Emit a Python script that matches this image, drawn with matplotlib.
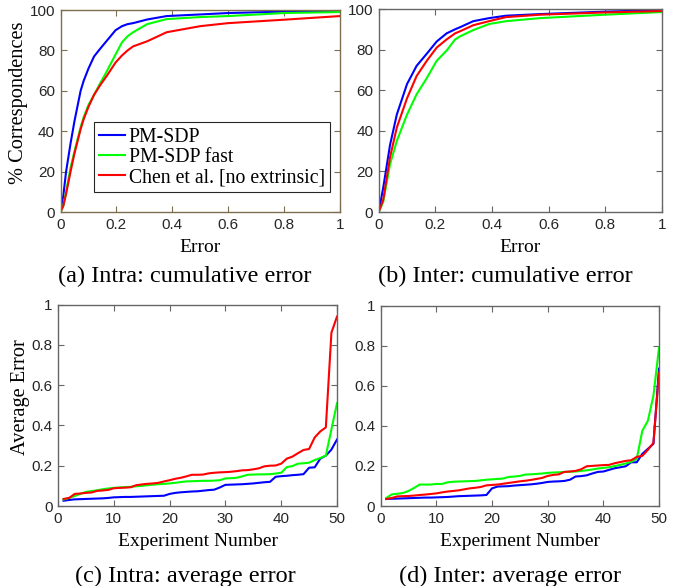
import matplotlib
matplotlib.use("Agg")
import matplotlib.pyplot as plt
import numpy as np

# ---------------- data ----------------
series_names = ["PM-SDP", "PM-SDP fast", "Chen et al. [no extrinsic]"]
series_colors = ["#0000ff", "#00ff00", "#ff0000"]

# (a) intra cumulative error
a_x = [0, 0.01, 0.02, 0.036, 0.05, 0.072, 0.083, 0.1, 0.12, 0.143, 0.167, 0.197,
       0.22, 0.24, 0.26, 0.31, 0.38, 0.5, 0.6, 0.8, 1.0]
a_blue = [0, 8, 20, 34, 45, 60, 65, 71, 77, 81, 85, 90, 92, 93, 93.5, 95.3, 97,
          97.8, 98.5, 99.2, 99.5]
a_green = [0, 3, 10, 22, 30, 42, 47, 53, 58, 64, 70, 78, 84, 87, 89, 93, 95.5,
           96.5, 97, 98.5, 99]
a_red = [0, 3, 9, 20, 29, 41, 46, 52, 58, 63, 67.7, 74, 77.5, 80, 82, 84.5, 89,
         92, 93.5, 95.2, 97]

# (b) inter cumulative error
b_x = [0, 0.016, 0.04, 0.064, 0.1, 0.134, 0.17, 0.205, 0.24, 0.27, 0.287, 0.334,
       0.39, 0.45, 0.57, 0.8, 1.0]
b_blue = [0, 12, 33, 48, 63, 72, 78, 84, 88, 90, 91, 94, 95.5, 96.7, 97.5, 98.7, 99.5]
b_green = [0, 5, 23.5, 35, 48, 58, 66, 74.5, 79.5, 85, 86.5, 89.6, 92.6, 94, 95.5, 97.2, 98.5]
b_red = [0, 6, 27, 41.6, 56, 67, 74.5, 81, 85, 88, 89, 92, 94, 96, 97.2, 98.3, 99]

experiments = list(range(1, 51))

# (c) intra average error
c_blue = [0.026, 0.030, 0.033, 0.034, 0.035, 0.036, 0.037, 0.038, 0.040, 0.043,
          0.044, 0.045, 0.045, 0.046, 0.047, 0.048, 0.049, 0.050, 0.051, 0.060,
          0.065, 0.068, 0.070, 0.072, 0.073, 0.076, 0.079, 0.081, 0.092, 0.105,
          0.106, 0.107, 0.108, 0.110, 0.112, 0.115, 0.118, 0.120, 0.145, 0.148,
          0.150, 0.153, 0.155, 0.158, 0.190, 0.192, 0.235, 0.250, 0.280, 0.330]
c_green = [0.032, 0.040, 0.050, 0.060, 0.070, 0.074, 0.078, 0.083, 0.087, 0.090,
           0.092, 0.094, 0.095, 0.098, 0.100, 0.103, 0.106, 0.108, 0.110, 0.112,
           0.115, 0.119, 0.122, 0.123, 0.124, 0.125, 0.125, 0.126, 0.128, 0.137,
           0.138, 0.140, 0.147, 0.155, 0.156, 0.157, 0.157, 0.158, 0.161, 0.165,
           0.193, 0.198, 0.210, 0.212, 0.215, 0.228, 0.238, 0.250, 0.380, 0.510]
c_red = [0.035, 0.040, 0.060, 0.062, 0.065, 0.067, 0.075, 0.077, 0.080, 0.088,
         0.090, 0.091, 0.093, 0.103, 0.107, 0.110, 0.112, 0.115, 0.122, 0.128,
         0.135, 0.140, 0.147, 0.155, 0.155, 0.156, 0.162, 0.165, 0.167, 0.168,
         0.170, 0.173, 0.177, 0.178, 0.182, 0.187, 0.197, 0.200, 0.201, 0.210,
         0.235, 0.245, 0.262, 0.278, 0.283, 0.340, 0.370, 0.390, 0.860, 0.940]

# (d) inter average error
d_blue = [0.035, 0.036, 0.037, 0.038, 0.039, 0.040, 0.041, 0.042, 0.042, 0.043,
          0.044, 0.045, 0.047, 0.049, 0.050, 0.051, 0.052, 0.053, 0.055, 0.088,
          0.097, 0.098, 0.099, 0.102, 0.104, 0.106, 0.108, 0.111, 0.115, 0.120,
          0.122, 0.123, 0.125, 0.131, 0.147, 0.149, 0.153, 0.162, 0.170, 0.172,
          0.180, 0.188, 0.193, 0.198, 0.218, 0.218, 0.260, 0.285, 0.310, 0.685]
d_green = [0.040, 0.058, 0.061, 0.065, 0.075, 0.090, 0.107, 0.107, 0.107, 0.110,
           0.110, 0.118, 0.121, 0.122, 0.123, 0.124, 0.125, 0.128, 0.131, 0.133,
           0.135, 0.137, 0.145, 0.147, 0.150, 0.157, 0.158, 0.160, 0.162, 0.165,
           0.167, 0.168, 0.170, 0.171, 0.172, 0.175, 0.178, 0.182, 0.187, 0.190,
           0.193, 0.199, 0.205, 0.212, 0.220, 0.235, 0.375, 0.425, 0.550, 0.790]
d_red = [0.035, 0.040, 0.048, 0.049, 0.050, 0.052, 0.055, 0.057, 0.060, 0.063,
         0.068, 0.072, 0.075, 0.078, 0.083, 0.088, 0.091, 0.095, 0.103, 0.105,
         0.107, 0.111, 0.115, 0.119, 0.123, 0.126, 0.130, 0.135, 0.140, 0.150,
         0.155, 0.158, 0.170, 0.172, 0.175, 0.183, 0.198, 0.200, 0.202, 0.204,
         0.205, 0.213, 0.219, 0.225, 0.228, 0.245, 0.250, 0.280, 0.315, 0.665]

captions = ["(a) Intra: cumulative error", "(b) Inter: cumulative error",
            "(c) Intra: average error", "(d) Inter: average error"]

# ---------------- figure ----------------
W, H = 681, 586
fig = plt.figure(figsize=(W / 100, H / 100), dpi=100)

def rect(l, t, r, b):
    return [l / W, 1 - b / H, (r - l) / W, (b - t) / H]

serif = "Liberation Serif"
sans = "Liberation Sans"

def style(ax, frame_color):
    for s in ax.spines.values():
        s.set_color(frame_color)
        s.set_linewidth(1.0)
    ax.tick_params(direction="in", top=True, right=True, length=4,
                   color=frame_color, labelsize=11, labelcolor="#262626", pad=4)
    for lab in ax.get_xticklabels() + ax.get_yticklabels():
        lab.set_fontfamily(sans)

lw = 1.5
xl_size = 14
yl_size = 14.7
xl_pad = 5.5

# (a)
ax_a = fig.add_axes(rect(60.5, 10, 340, 212))
for y, c, n in zip([a_blue, a_green, a_red], series_colors, series_names):
    ax_a.plot(a_x, y, color=c, lw=lw, label=n)
ax_a.set_xlim(0, 1); ax_a.set_ylim(0, 100)
ax_a.set_xticks([0, 0.2, 0.4, 0.6, 0.8, 1]); ax_a.set_xticklabels(["0", "0.2", "0.4", "0.6", "0.8", "1"])
ax_a.set_yticks([0, 20, 40, 60, 80, 100])
ax_a.set_xlabel("Error", fontfamily=serif, fontsize=xl_size, labelpad=xl_pad)
ax_a.set_ylabel("% Correspondences", fontfamily=serif, fontsize=yl_size, labelpad=1)
ax_a.yaxis.label.set_y(0.54)
style(ax_a, "#7d6e4f")
leg = ax_a.legend(loc="lower right", bbox_to_anchor=(0.964, 0.099), fancybox=False,
                  edgecolor="#262626", framealpha=1,
                  prop={"family": serif, "size": 14.2}, handlelength=1.3,
                  borderpad=0.25, labelspacing=0.0, handletextpad=0.2, borderaxespad=0.0,
                  handleheight=0.9)
leg.get_frame().set_linewidth(0.8)

# (b)
ax_b = fig.add_axes(rect(378.7, 9, 661.7, 212))
for y, c in zip([b_blue, b_green, b_red], series_colors):
    ax_b.plot(b_x, y, color=c, lw=lw)
ax_b.set_xlim(0, 1); ax_b.set_ylim(0, 100)
ax_b.set_xticks([0, 0.2, 0.4, 0.6, 0.8, 1]); ax_b.set_xticklabels(["0", "0.2", "0.4", "0.6", "0.8", "1"])
ax_b.set_yticks([0, 20, 40, 60, 80, 100])
ax_b.set_xlabel("Error", fontfamily=serif, fontsize=xl_size, labelpad=xl_pad)
style(ax_b, "#666666")

# (c)
ax_c = fig.add_axes(rect(58, 304.5, 337, 506))
for y, c in zip([c_blue, c_green, c_red], series_colors):
    ax_c.plot(experiments, y, color=c, lw=lw)
ax_c.set_xlim(0, 50); ax_c.set_ylim(0, 1)
ax_c.set_xticks([0, 10, 20, 30, 40, 50])
ax_c.set_yticks([0, 0.2, 0.4, 0.6, 0.8, 1]); ax_c.set_yticklabels(["0", "0.2", "0.4", "0.6", "0.8", "1"])
ax_c.set_xlabel("Experiment Number", fontfamily=serif, fontsize=xl_size, labelpad=xl_pad)
ax_c.set_ylabel("Average Error", fontfamily=serif, fontsize=yl_size, labelpad=1)
ax_c.yaxis.label.set_y(0.54)
style(ax_c, "#666666")

# (d)
ax_d = fig.add_axes(rect(380.7, 305.5, 659, 506))
for y, c in zip([d_blue, d_green, d_red], series_colors):
    ax_d.plot(experiments, y, color=c, lw=lw)
ax_d.set_xlim(0, 50); ax_d.set_ylim(0, 1)
ax_d.set_xticks([0, 10, 20, 30, 40, 50])
ax_d.set_yticks([0, 0.2, 0.4, 0.6, 0.8, 1]); ax_d.set_yticklabels(["0", "0.2", "0.4", "0.6", "0.8", "1"])
ax_d.set_xlabel("Experiment Number", fontfamily=serif, fontsize=xl_size, labelpad=xl_pad)
style(ax_d, "#666666")

# captions
cap_pos = [(185, 276), (505, 276), (185, 576), (510, 576)]
for (cx, cy), txt in zip(cap_pos, captions):
    fig.text(cx / W, 1 - cy / H, txt, ha="center", va="center",
             fontfamily=serif, fontsize=17.5)

fig.savefig("out.png", dpi=100)
